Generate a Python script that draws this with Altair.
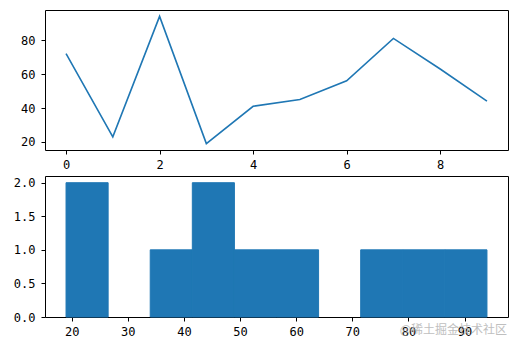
import altair as alt
import pandas as pd

# data
idx = list(range(10))
values = [72, 23, 94, 19, 41, 45, 56, 81, 63, 44]
top_x_ticks = [0, 2, 4, 6, 8]
top_y_ticks = [20, 40, 60, 80]
bot_x_ticks = [20, 30, 40, 50, 60, 70, 80, 90]
bot_y_ticks = [0.0, 0.5, 1.0, 1.5, 2.0]
watermark = "@稀土掘金技术社区"

df = pd.DataFrame({"i": idx, "v": values})
BLUE = "#1f77b4"
FONT = "DejaVu Sans Mono"
W, H = 463, 140

line = alt.Chart(df).mark_line(color=BLUE, strokeWidth=1.6).encode(
    x=alt.X("i:Q", scale=alt.Scale(domain=[-0.45, 9.45], nice=False, zero=False),
            axis=alt.Axis(values=top_x_ticks, format="d", title=None)),
    y=alt.Y("v:Q", scale=alt.Scale(domain=[15.25, 97.75], nice=False, zero=False),
            axis=alt.Axis(values=top_y_ticks, format="d", title=None)),
).properties(width=W, height=H)

hist_base = alt.Chart(df).transform_bin(
    ["b0", "b1"], "v", bin=alt.Bin(extent=[19, 94], step=7.5, nice=False)
).transform_aggregate(
    count="count()", groupby=["b0", "b1"]
)
bars = hist_base.mark_bar(color=BLUE, binSpacing=0, stroke=BLUE, strokeWidth=1,
                          opacity=1, fillOpacity=1, strokeOpacity=1).encode(
    x=alt.X("b0:Q", scale=alt.Scale(domain=[15.25, 97.75], nice=False, zero=False),
            axis=alt.Axis(values=bot_x_ticks, format="d", title=None)),
    x2="b1:Q",
    y=alt.Y("count:Q", scale=alt.Scale(domain=[0, 2.1], nice=False),
            axis=alt.Axis(values=bot_y_ticks, format=".1f", title=None)),
    y2=alt.datum(0),
)
wm = alt.Chart(pd.DataFrame({"t": [watermark]})).mark_text(
    font="Noto Sans CJK SC", fontSize=12, color="#b0b0b0", opacity=0.8,
    align="right", baseline="middle"
).encode(text="t:N", x=alt.value(462), y=alt.value(154))

bottom = alt.layer(bars, wm).properties(width=W, height=141)

chart = alt.vconcat(line, bottom, spacing=4).properties(
    padding={"left": 12, "top": 9, "right": 5, "bottom": 5}
).configure_view(
    stroke="black", strokeWidth=1
).configure_axis(
    grid=False, domain=False, tickColor="black", tickSize=4, tickWidth=1,
    labelFont=FONT, labelFontSize=12, labelColor="black",
).configure_axisX(labelPadding=5).configure_axisY(labelPadding=6)

chart.save("out.html", embed_options={"renderer": "svg", "actions": False})
